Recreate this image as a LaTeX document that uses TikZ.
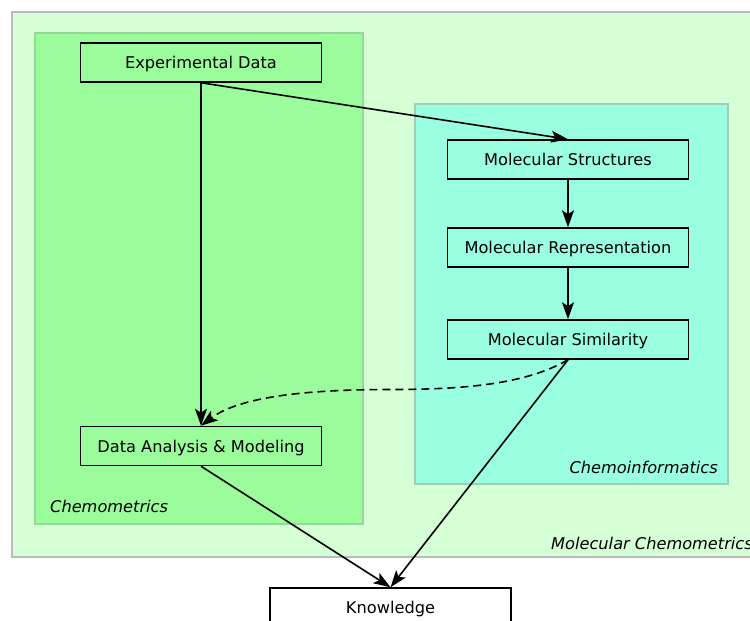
\documentclass[tikz,border=0pt]{standalone}
\usepackage{fontspec}
\setmainfont{DejaVu Sans}
\usetikzlibrary{arrows.meta}
\definecolor{outerfill}{HTML}{D5FFD5}
\definecolor{outerdraw}{HTML}{BBBBBB}
\definecolor{cmfill}{HTML}{9BFC9B}
\definecolor{cmdraw}{HTML}{99D699}
\definecolor{cifill}{HTML}{99FFE0}
\definecolor{cidraw}{HTML}{A0CCBC}
\tikzset{
  stepbox/.style={draw=black, line width=1.5pt, minimum width=241pt, minimum height=39pt, inner sep=0pt, text height=12pt, text depth=0pt, font=\fontsize{16.2}{19}\selectfont},
  grouplabel/.style={font=\fontsize{16.2}{19}\selectfont\itshape, inner sep=0pt},
  conn/.style={line width=1.6pt, -{Stealth[length=17pt,width=12pt,inset=4pt]}},
}
\begin{document}
\begin{tikzpicture}[x=1pt,y=-1pt]
\useasboundingbox (0,0) rectangle (750,621);
\fill[white] (0,0) rectangle (750,621);
% groups
\draw[fill=outerfill, draw=outerdraw, line width=1.5pt] (12,12) rectangle (770,557);
\draw[fill=cmfill, draw=cmdraw, line width=1.3pt] (35,33) rectangle (363,524);
\draw[fill=cifill, draw=cidraw, line width=1.3pt] (415,104) rectangle (728,484);
\node[grouplabel, anchor=west] (lcm) at (50,506) {Chemometrics};
\node[grouplabel, anchor=east] (lci) at (718,467) {Chemoinformatics};
\node[grouplabel, anchor=west] (lmc) at (551,543) {Molecular Chemometrics};
% nodes
\node[stepbox] (exp) at (201,62.5) {Experimental Data};
\node[stepbox] (mst) at (568,159.5) {Molecular Structures};
\node[stepbox] (mrep) at (568,247.5) {Molecular Representation};
\node[stepbox] (msim) at (568,339.5) {Molecular Similarity};
\node[stepbox] (dam) at (201,446) {Data Analysis \& Modeling};
\node[stepbox, fill=white] (know) at (390.5,607.5) {Knowledge};
\coordinate (mid) at (390,389.5);
% connectors
\draw[conn] (exp.south) -- (dam.north);
\draw[conn] (exp.south) -- (mst.north);
\draw[conn] (mst.south) -- (mrep.north);
\draw[conn] (mrep.south) -- (msim.north);
\draw[conn, dash pattern=on 8pt off 5pt] (msim.south) .. controls (525,385) and (460,389.5) .. (mid) .. controls (290,389.5) and (235,400) .. (dam.north);
\draw[conn] (dam.south) -- (know.north);
\draw[conn] (msim.south) -- (know.north);
\end{tikzpicture}
\end{document}
